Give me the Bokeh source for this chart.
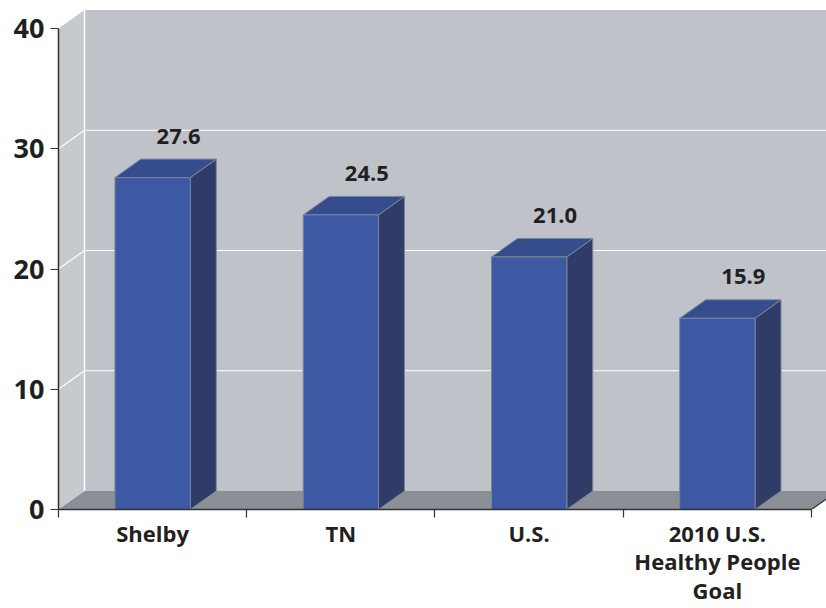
from bokeh.plotting import figure
from bokeh.models import Range1d, FixedTicker
from bokeh.embed import file_html
from bokeh.resources import INLINE
from bokeh.core.properties import value

# ---- data ----
categories = ["Shelby", "TN", "U.S.", "2010 U.S.\nHealthy People\nGoal"]
values = [27.6, 24.5, 21.0, 15.9]
y_ticks = [0, 10, 20, 30, 40]

# ---- style / geometry constants ----
DX = 0.138      # depth offset in category units
DY = 1.54       # depth offset in value units
BAR_W = 0.4
FONT = "Open Sans"
TXT = "#231f20"

n = len(categories)
X_END = 4.0797
Y_END = 42.33

p = figure(width=826, height=608, output_backend="svg", toolbar_location=None,
           x_range=Range1d(0, X_END), y_range=Range1d(0, Y_END),
           min_border_left=58, min_border_right=0, min_border_top=0, min_border_bottom=99)
p.outline_line_color = None
p.grid.visible = False
p.background_fill_color = "white"
p.border_fill_color = "white"

ymax = max(y_ticks)

# back wall
p.patch([DX, X_END, X_END, DX], [DY, DY, ymax + DY, ymax + DY],
        fill_color="#bfc2c9", line_color=None)
# left wall
p.patch([0, DX, DX, 0], [0, DY, ymax + DY, ymax],
        fill_color="#c6c9ce", line_color=None)
# floor
p.patch([0, n, n + DX, DX], [0, 0, DY, DY],
        fill_color="#8a9096", line_color=None)
p.segment(x0=[n], y0=[0], x1=[n + DX], y1=[DY], line_color="#333333", line_width=1.2)

# gridlines on back wall and left wall
gt = [t for t in y_ticks if 0 < t < ymax]
p.segment(x0=[DX] * len(gt), y0=[t + DY for t in gt], x1=[X_END] * len(gt),
          y1=[t + DY for t in gt], line_color="white", line_width=1.2)
p.segment(x0=[0] * len(gt), y0=gt, x1=[DX] * len(gt), y1=[t + DY for t in gt],
          line_color="white", line_width=1.2)
p.segment(x0=[DX], y0=[DY], x1=[DX], y1=[ymax + DY], line_color="white", line_width=1.5)

# bars
centers = [i + 0.5 for i in range(n)]
lefts = [c - BAR_W / 2 for c in centers]
rights = [c + BAR_W / 2 for c in centers]
EDGE = "#7b8698"

side_xs = [[r, r + DX, r + DX, r] for r in rights]
side_ys = [[0, DY, v + DY, v] for v in values]
p.patches(side_xs, side_ys, fill_color="#2f3c68", line_color=EDGE, line_width=1)

top_xs = [[l, r, r + DX, l + DX] for l, r in zip(lefts, rights)]
top_ys = [[v, v, v + DY, v + DY] for v in values]
p.patches(top_xs, top_ys, fill_color="#354d8c", line_color=EDGE, line_width=1)

p.quad(left=lefts, right=rights, bottom=0, top=values,
       fill_color="#3d59a3", line_color=EDGE, line_width=1)

# value labels
p.text(x=[c + DX for c in centers], y=[v + DY for v in values],
       text=[f"{v:.1f}" for v in values], text_align="center",
       text_baseline="alphabetic", y_offset=-23,
       text_font=value(FONT), text_font_style="bold", text_font_size="22px",
       text_color=TXT)

# y axis
ya = p.yaxis[0]
ya.ticker = FixedTicker(ticks=y_ticks, minor_ticks=[])
ya.bounds = (0, ymax)
ya.axis_line_color = "#333333"
ya.axis_line_width = 1.5
ya.major_tick_out = 8
ya.major_tick_in = 0
ya.major_tick_line_color = "#333333"
ya.major_tick_line_width = 1.2
ya.major_label_standoff = 6
ya.major_label_text_font = FONT
ya.major_label_text_font_style = "bold"
ya.major_label_text_font_size = "27px"
ya.major_label_text_color = TXT

# x axis
xa = p.xaxis[0]
xa.ticker = FixedTicker(ticks=centers, minor_ticks=list(range(n + 1)))
xa.major_label_overrides = {c: lab for c, lab in zip(centers, categories)}
xa.bounds = (0, n)
xa.axis_line_color = "#333333"
xa.axis_line_width = 1.5
xa.major_tick_out = 0
xa.major_tick_in = 0
xa.minor_tick_out = 8
xa.minor_tick_in = 0
xa.minor_tick_line_color = "#333333"
xa.minor_tick_line_width = 1.2
xa.major_label_standoff = 0
xa.major_label_text_font = FONT
xa.major_label_text_font_style = "bold"
xa.major_label_text_font_size = "22px"
xa.major_label_text_line_height = 0.95
xa.major_label_text_color = TXT

open("out.html", "w").write(file_html(p, INLINE))
